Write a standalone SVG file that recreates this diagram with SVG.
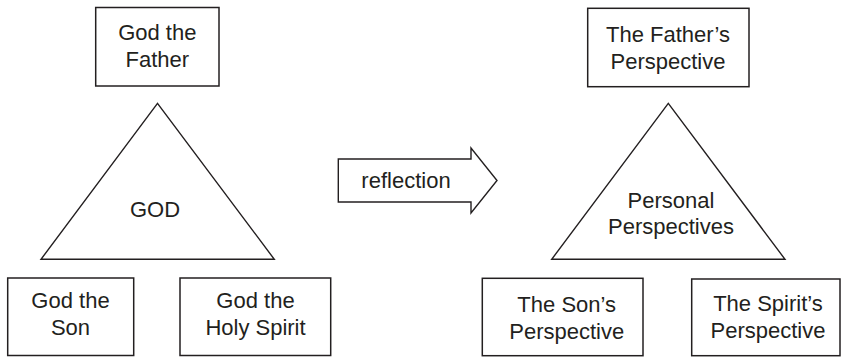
<svg xmlns="http://www.w3.org/2000/svg" width="841" height="357" viewBox="0 0 841 357">
<style>
.box{fill:#fff;stroke:#231f20;stroke-width:1.5}
.shape{fill:#fff;stroke:#231f20;stroke-width:1.4;stroke-linejoin:miter}
text{font-family:"Liberation Sans",Arial,sans-serif;font-size:22px;fill:#231f20;text-anchor:middle}
</style>
<rect width="841" height="357" fill="#fff"/>
<g id="god-father">
<rect class="box" x="95.7" y="7.5" width="123.3" height="78.5"/>
<text x="157.3" y="40">God the</text>
<text x="157.3" y="67">Father</text>
</g>
<g id="god">
<polygon class="shape" points="157.5,103.3 41,259.3 274.3,259.3"/>
<text x="155" y="217">GOD</text>
</g>
<g id="god-son">
<rect class="box" x="7.7" y="278" width="126" height="77.5"/>
<text x="70.5" y="308">God the</text>
<text x="70.5" y="335">Son</text>
</g>
<g id="god-spirit">
<rect class="box" x="180" y="278" width="150.7" height="77.5"/>
<text x="255.5" y="308">God the</text>
<text x="255.5" y="335">Holy Spirit</text>
</g>
<g id="connectors">
<g id="reflection">
<polygon class="shape" points="338.3,159 471,159 471,148 497,180.5 471,213 471,202 338.3,202"/>
<text x="406" y="187.5">reflection</text>
</g>
</g>
<g id="father-perspective">
<rect class="box" x="587.7" y="8.3" width="161.3" height="78.4"/>
<text x="668" y="42.3">The Father’s</text>
<text x="668" y="69">Perspective</text>
</g>
<g id="personal">
<polygon class="shape" points="668.3,103.3 551.7,259.3 785,259.3"/>
<text x="671" y="207.7">Personal</text>
<text x="671" y="234">Perspectives</text>
</g>
<g id="son-perspective">
<rect class="box" x="482.3" y="278.3" width="160.7" height="77.4"/>
<text x="566.7" y="311.7">The Son’s</text>
<text x="566.7" y="339">Perspective</text>
</g>
<g id="spirit-perspective">
<rect class="box" x="691.7" y="279" width="148.3" height="76.7"/>
<text x="768" y="311">The Spirit’s</text>
<text x="768" y="338">Perspective</text>
</g>
</svg>
